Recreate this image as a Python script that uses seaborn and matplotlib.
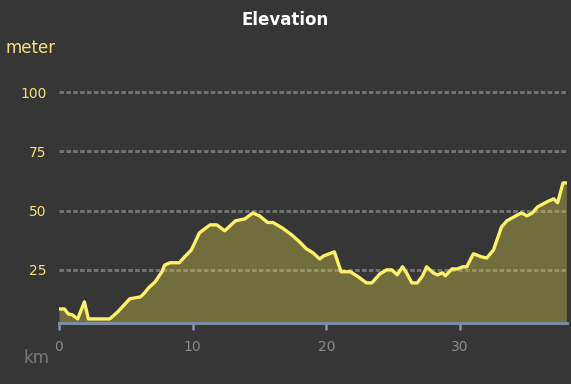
import numpy as np
import pandas as pd
import seaborn as sns
from matplotlib import pyplot as plt

# distance (km) and elevation (m)
km = [0.0, 0.4, 0.7, 1.0, 1.4, 1.9, 2.2, 3.8, 4.4, 5.3, 6.1, 6.4, 6.7, 7.2, 7.7,
      7.9, 8.3, 9.0, 9.4, 9.9, 10.5, 11.3, 11.8, 12.4, 13.2, 13.9, 14.5, 15.0,
      15.6, 16.0, 16.7, 17.4, 18.0, 18.5, 19.0, 19.5, 19.8, 20.6, 21.1, 21.8,
      22.4, 23.0, 23.4, 24.0, 24.5, 24.9, 25.3, 25.7, 26.0, 26.4, 26.8, 27.2,
      27.5, 28.0, 28.3, 28.7, 28.9, 29.4, 29.8, 30.2, 30.5, 31.0, 31.6, 32.0,
      32.5, 33.1, 33.5, 34.3, 34.6, 35.0, 35.4, 35.8, 36.5, 37.0, 37.3, 37.7,
      37.95]
elev = [8.5, 8.5, 6.4, 6.0, 4.3, 11.5, 4.3, 4.3, 7.3, 12.8, 13.6, 15.3, 17.4,
        20.0, 24.2, 27.0, 28.0, 28.0, 30.5, 33.4, 40.6, 44.0, 44.0, 41.5, 45.7,
        46.5, 49.0, 47.8, 45.0, 45.0, 42.7, 39.8, 36.8, 33.9, 32.2, 29.6, 30.9,
        32.6, 24.2, 24.2, 22.0, 19.5, 19.5, 23.3, 25.0, 25.0, 22.9, 26.3, 23.7,
        19.5, 19.5, 22.5, 26.3, 23.7, 22.9, 23.7, 22.5, 25.4, 25.4, 26.3, 26.3,
        31.8, 30.5, 30.0, 33.4, 43.1, 45.7, 48.2, 49.0, 47.8, 49.0, 51.6, 53.7,
        55.0, 53.3, 61.7, 61.7]
y_ticks = [25, 50, 75, 100]
x_ticks = [0, 10, 20, 30]

df = pd.DataFrame({"km": km, "elev": elev})

bg = "#363636"
line_col = "#fdf06a"
sns.set_theme(style="dark")

fig = plt.figure(figsize=(5.71, 3.84), dpi=100, facecolor=bg)
ax = fig.add_axes([0.1033, 0.159, 0.8897, 0.672])
ax.set_facecolor(bg)

ax.set_xlim(0, 38.0)
ax.set_ylim(2.6, 111.5)

for v in y_ticks:
    ax.axhline(v, color="#727272", lw=2.2, ls=(0, (1.5, 0.75)), zorder=1)

ax.fill_between(df["km"], df["elev"], 2.6, color="#ddd04a", alpha=0.36, lw=0, zorder=2)
sns.lineplot(data=df, x="km", y="elev", ax=ax, color=line_col, lw=2.4, zorder=3)

ax.set_yticks(y_ticks)
ax.set_xticks(x_ticks)
ax.tick_params(axis="y", length=0, labelcolor="#f3e27a", labelsize=10, pad=9)
ax.tick_params(axis="x", bottom=True, length=5, width=1.8, color="#8795ad",
               direction="out", labelcolor="#8c8c8c", labelsize=10, pad=7)
for s in ["top", "right", "left"]:
    ax.spines[s].set_visible(False)
ax.spines["bottom"].set_color("#7d8ba3")
ax.spines["bottom"].set_linewidth(2.2)
ax.grid(False)
ax.set_xlabel("")
ax.set_ylabel("")

fig.text(0.5, 0.948, "Elevation", ha="center", va="center", color="white",
         fontsize=12, fontweight="bold")
fig.text(0.009, 0.875, "meter", ha="left", va="center", color="#f3e27a", fontsize=12)
fig.text(0.042, 0.068, "km", ha="left", va="center", color="#7a7a7a", fontsize=12)

fig.savefig("out.png", dpi=100, facecolor=bg)
